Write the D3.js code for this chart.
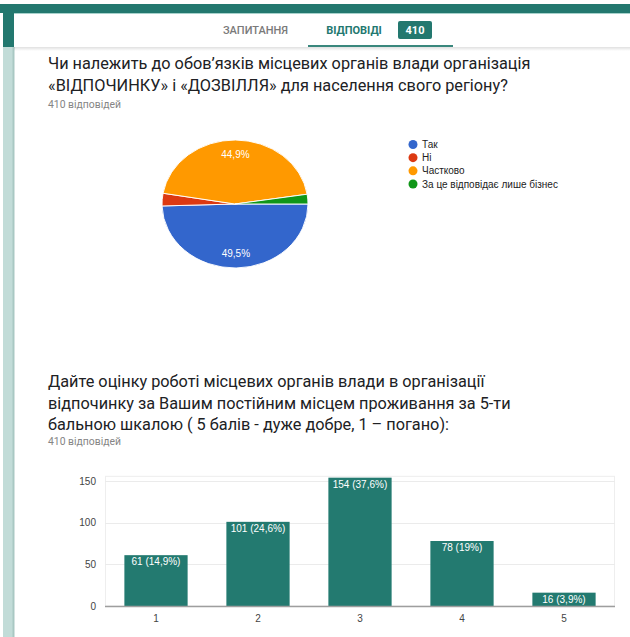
<!DOCTYPE html>
<html>
<head>
<meta charset="utf-8">
<script src="https://cdn.jsdelivr.net/npm/d3@7/dist/d3.min.js"></script>
<style>
  html, body { margin: 0; padding: 0; background: #fff; }
  svg { display: block; }
</style>
</head>
<body>
<svg id="page" width="630" height="637"></svg>
<script>
// ---- data ----
const totalResponses = 410;

const pieLabels = ["Так", "Ні", "Частково", "За це відповідає лише бізнес"];
const pieCounts = [203, 13, 184, 10];
const pieColors = ["#3366cc", "#dc3912", "#ff9900", "#109618"];

const barCategories = ["1", "2", "3", "4", "5"];
const barCounts = [61, 101, 154, 78, 16];
const barTicks = [0, 50, 100, 150];

const q1Lines = [
  "Чи належить до обов’язків місцевих органів влади організація",
  "«ВІДПОЧИНКУ» і «ДОЗВІЛЛЯ» для населення свого регіону?"
];
const q2Lines = [
  "Дайте оцінку роботі місцевих органів влади в організації",
  "відпочинку за Вашим постійним місцем проживання за 5-ти",
  "бальною шкалою ( 5 балів - дуже добре, 1 – погано):"
];
const responsesText = "410 відповідей";

// ---- helpers ----
const teal = "#23786f";
const pct = v => {
  const p = Math.round(v / totalResponses * 1000) / 10;
  return (p % 1 === 0 ? p.toFixed(0) : p.toFixed(1)).replace(".", ",") + "%";
};

const svg = d3.select("#page");

// ---- page frame ----
svg.append("rect").attr("x", 0).attr("y", 4).attr("width", 630).attr("height", 9).attr("fill", teal);
svg.append("rect").attr("x", 3).attr("y", 4).attr("width", 11).attr("height", 43).attr("fill", teal);
svg.append("rect").attr("x", 3).attr("y", 47).attr("width", 11).attr("height", 590).attr("fill", "#c2dcd8");
svg.append("rect").attr("x", 12.5).attr("y", 47).attr("width", 2).attr("height", 590).attr("fill", "#a9c8c3");
svg.append("rect").attr("x", 14).attr("y", 13).attr("width", 616).attr("height", 1).attr("fill", "#a7d2cc");

// header shadow
const defs = svg.append("defs");
const sh = defs.append("linearGradient").attr("id", "hdrShadow").attr("x1", 0).attr("y1", 0).attr("x2", 0).attr("y2", 1);
sh.append("stop").attr("offset", 0).attr("stop-color", "#000").attr("stop-opacity", 0.12);
sh.append("stop").attr("offset", 1).attr("stop-color", "#000").attr("stop-opacity", 0);
svg.append("rect").attr("x", 14).attr("y", 47).attr("width", 616).attr("height", 4).attr("fill", "url(#hdrShadow)");

// ---- tabs ----
const tabs = svg.append("g").attr("font-family", "Roboto, sans-serif");
tabs.append("text").attr("x", 255.5).attr("y", 34).attr("text-anchor", "middle")
  .attr("font-size", 11).attr("font-weight", 500).attr("fill", "#7a7a7a").text("ЗАПИТАННЯ");
tabs.append("text").attr("x", 354).attr("y", 34).attr("text-anchor", "middle")
  .attr("font-size", 11).attr("font-weight", 700).attr("fill", teal).text("ВІДПОВІДІ");
tabs.append("rect").attr("x", 398).attr("y", 21).attr("width", 34).attr("height", 18).attr("rx", 2).attr("fill", teal);
tabs.append("text").attr("x", 415).attr("y", 34).attr("text-anchor", "middle")
  .attr("font-size", 11).attr("font-weight", 700).attr("fill", "#fff").text("410");
tabs.append("rect").attr("x", 308).attr("y", 45).attr("width", 145).attr("height", 2).attr("fill", "#3a877d");

// ---- question titles ----
function title(lines, y0, lh, yResp) {
  const g = svg.append("g").attr("font-family", "Roboto, sans-serif");
  lines.forEach((l, i) => {
    g.append("text").attr("x", 48).attr("y", y0 + i * lh).attr("font-size", 16.3)
      .attr("fill", "#202124").text(l);
  });
  g.append("text").attr("x", 48).attr("y", yResp).attr("font-size", 10.4)
    .attr("fill", "#858585").text(responsesText);
}
title(q1Lines, 69, 21.5, 108);
title(q2Lines, 387, 21.5, 445);

// ---- pie chart ----
const cx = 235, cy = 204, r = 73, squash = 64 / 73;
const pieData = pieCounts.map((c, i) => ({ label: pieLabels[i], count: c, color: pieColors[i] }));
const pie = d3.pie().value(d => d.count).sort(null)
  .startAngle(Math.PI / 2).endAngle(Math.PI / 2 + 2 * Math.PI);
const arcs = pie(pieData);
const arc = d3.arc().innerRadius(0).outerRadius(r);
const labelArc = d3.arc().innerRadius(r * 0.78).outerRadius(r * 0.78);

const pg = svg.append("g").attr("transform", `translate(${cx},${cy}) scale(1,${squash})`);
pg.selectAll("path").data(arcs).join("path")
  .attr("d", arc).attr("fill", d => d.data.color)
  .attr("stroke", "#fff").attr("stroke-width", 1);

svg.append("g").attr("font-family", "Liberation Sans, Arial, sans-serif")
  .selectAll("text").data(arcs.filter(d => d.data.count / totalResponses > 0.05)).join("text")
  .attr("x", d => cx + labelArc.centroid(d)[0])
  .attr("y", d => cy + labelArc.centroid(d)[1] * squash)
  .attr("dy", "0.35em").attr("text-anchor", "middle")
  .attr("font-size", 10).attr("fill", "#fff")
  .text(d => pct(d.data.count));

// legend
const lg = svg.append("g").attr("font-family", "Liberation Sans, Arial, sans-serif");
const legendY = d3.scalePoint().domain(pieLabels).range([144.5, 184]);
const li = lg.selectAll("g").data(pieData).join("g")
  .attr("transform", d => `translate(413,${legendY(d.label)})`);
li.append("circle").attr("r", 4.5).attr("fill", d => d.color);
li.append("text").attr("x", 9).attr("dy", "0.35em").attr("font-size", 10)
  .attr("fill", "#222").text(d => d.label);

// ---- bar chart ----
const x = d3.scaleBand().domain(barCategories).range([105, 615]).paddingInner(0.38).paddingOuter(0.19);
const y = d3.scaleLinear().domain([0, 155]).range([606, 606 - 155 * (125 / 150)]);

const bc = svg.append("g").attr("font-family", "Liberation Sans, Arial, sans-serif");
// plot frame
bc.append("rect").attr("x", 105.5).attr("y", y(155) - 0.5).attr("width", 509).attr("height", y(0) - y(155) + 0.5)
  .attr("fill", "none").attr("stroke", "#eeeeee");
// gridlines
bc.append("g").selectAll("line").data(barTicks.filter(t => t > 0)).join("line")
  .attr("x1", 105).attr("x2", 615).attr("y1", d => Math.round(y(d)) + 0.5).attr("y2", d => Math.round(y(d)) + 0.5)
  .attr("stroke", "#ebebeb");

// y axis labels
const yAxis = d3.axisLeft(y).tickValues(barTicks).tickSize(0).tickPadding(9);
bc.append("g").attr("transform", "translate(105,0)").call(yAxis)
  .call(g => g.select(".domain").remove())
  .call(g => g.selectAll("text").attr("font-size", 10).attr("fill", "#444").attr("font-family", "Liberation Sans, Arial, sans-serif"));

// bars
bc.append("g").selectAll("rect").data(barCounts).join("rect")
  .attr("x", (d, i) => x(barCategories[i]))
  .attr("y", d => y(d))
  .attr("width", x.bandwidth())
  .attr("height", d => y(0) - y(d))
  .attr("fill", "#237a70");

// value labels
bc.append("g").selectAll("text").data(barCounts).join("text")
  .attr("x", (d, i) => x(barCategories[i]) + x.bandwidth() / 2)
  .attr("y", d => y(d) + 10)
  .attr("text-anchor", "middle").attr("font-size", 10).attr("fill", "#fff")
  .text(d => `${d} (${pct(d)})`);

// baseline
bc.append("line").attr("x1", 105).attr("x2", 615).attr("y1", y(0) + 0.5).attr("y2", y(0) + 0.5)
  .attr("stroke", "#9e9e9e").attr("stroke-width", 1.6);

// x axis labels
const xAxis = d3.axisBottom(x).tickSize(0).tickPadding(9);
bc.append("g").attr("transform", `translate(0,${y(0)})`).call(xAxis)
  .call(g => g.select(".domain").remove())
  .call(g => g.selectAll("text").attr("font-size", 10).attr("fill", "#444").attr("font-family", "Liberation Sans, Arial, sans-serif"));
</script>
</body>
</html>
